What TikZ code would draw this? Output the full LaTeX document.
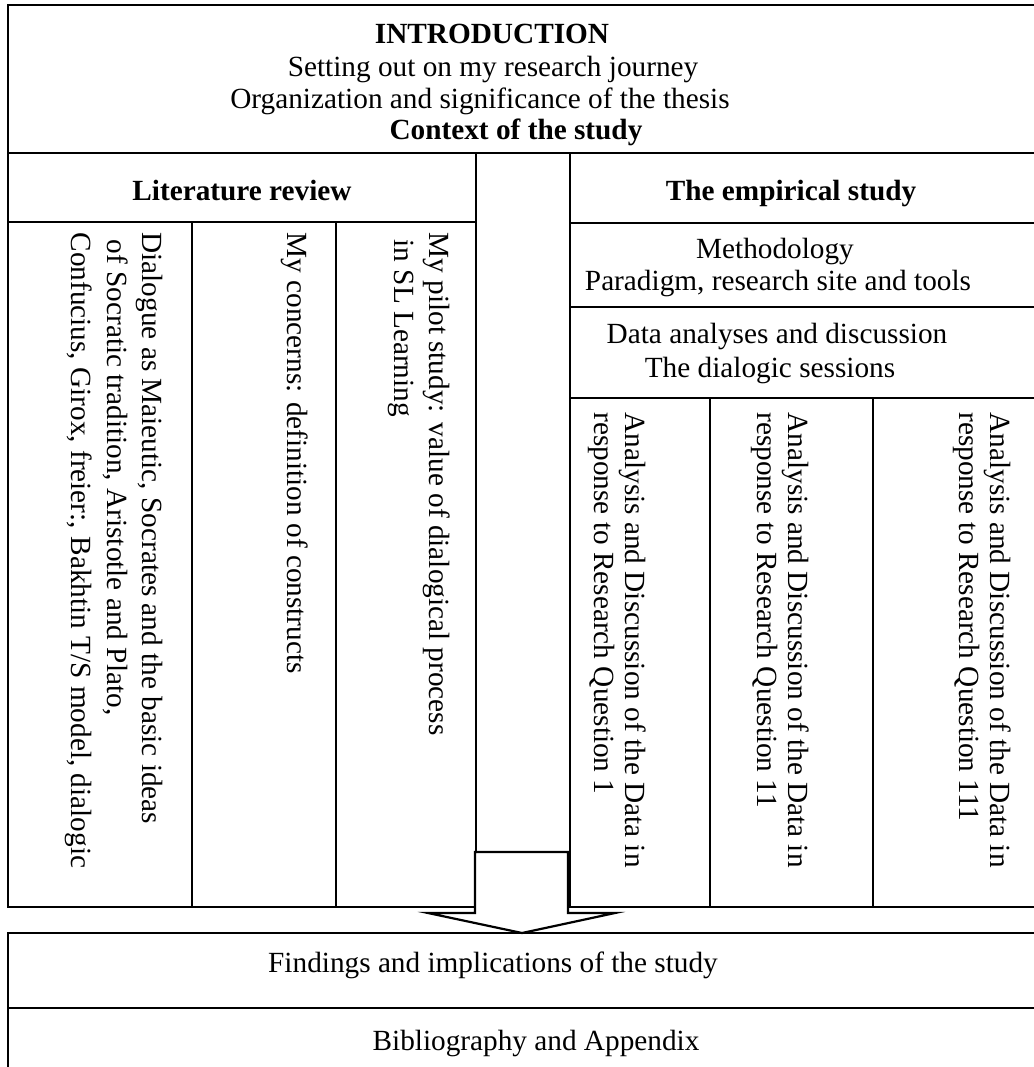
\documentclass[tikz,border=0pt]{standalone}
\usepackage{fontspec}
\setmainfont{Liberation Serif}
\tikzset{
  box/.style={line width=0.9pt},
  txt/.style={anchor=base, inner sep=0pt, font=\fontsize{12}{14}\selectfont},
  hd/.style={txt, font=\fontsize{12}{14}\selectfont\bfseries},
  vtxt/.style={rotate=-90, anchor=north west, inner sep=0pt, align=left, font=\fontsize{12}{14.4}\selectfont},
  vtxtq/.style={vtxt, font=\fontsize{12}{13}\selectfont}
}
\begin{document}
\begin{tikzpicture}[x=0.41pt,y=-0.41pt]
    \useasboundingbox (0,0) rectangle (1034,1067);
    \clip (0,0) rectangle (1034,1067);
    % frame
    \draw[box] (8,5) rectangle (1045,153);
    \draw[box] (8,153) rectangle (476,222);
    \draw[box] (8,222) rectangle (192,907) (192,222) rectangle (336,907) (336,222) rectangle (476,907);
    \draw[box] (570,153) rectangle (1045,223);
    \draw[box] (570,223) rectangle (1045,307);
    \draw[box] (570,307) rectangle (1045,398);
    \draw[box] (570,398) rectangle (710,907) (710,398) rectangle (873,907) (873,398) rectangle (1045,907);
    \draw[box] (8,933) rectangle (1045,1008) (8,1008) rectangle (1045,1080);
    % block arrow
    \draw[box, fill=white] (475,852) -- (568,852) -- (568,913) -- (615,913)
        -- (522,933) -- (428,913) -- (475,913) -- cycle;

    \node[hd] (intro) at (492,43) {INTRODUCTION};
    \node[txt] (journey) at (493,76) {Setting out on my research journey};
    \node[txt] (organ) at (480,108) {Organization and significance of the thesis};
    \node[hd] (context) at (516,139) {Context of the study};
    \node[hd] (lit) at (242,200) {Literature review};
    \node[hd] (emp) at (791,200) {The empirical study};
    \node[txt] (method) at (775,258) {Methodology};
    \node[txt] (paradigm) at (778,290) {Paradigm, research site and tools};
    \node[txt] (data) at (777,343) {Data analyses and discussion};
    \node[txt] (sessions) at (770,377) {The dialogic sessions};

    \node[vtxt] (lit1) at (163,232) {Dialogue as Maieutic, Socrates and the basic ideas\\\ of Socratic tradition, Aristotle and Plato,\\Confucius, Girox, freier:, Bakhtin T/S model, dialogic};
    \node[vtxt] (lit2) at (309,232) {My concerns: definition of constructs};
    \node[vtxt] (lit3) at (451,232) {My pilot study: value of dialogical process\\\ in SL Learning};

    \node[vtxtq] (rq1) at (647,412) {Analysis and Discussion of the Data in\\response to Research Question 1};
    \node[vtxtq] (rq2) at (810,412) {Analysis and Discussion of the Data in\\response to Research Question 11};
    \node[vtxtq] (rq3) at (1012,412) {Analysis and Discussion of the Data in\\response to Research Question 111};

    \node[txt] (findings) at (493,972) {Findings and implications of the study};
    \node[txt] (biblio) at (536,1050) {Bibliography and Appendix};
\end{tikzpicture}
\end{document}
